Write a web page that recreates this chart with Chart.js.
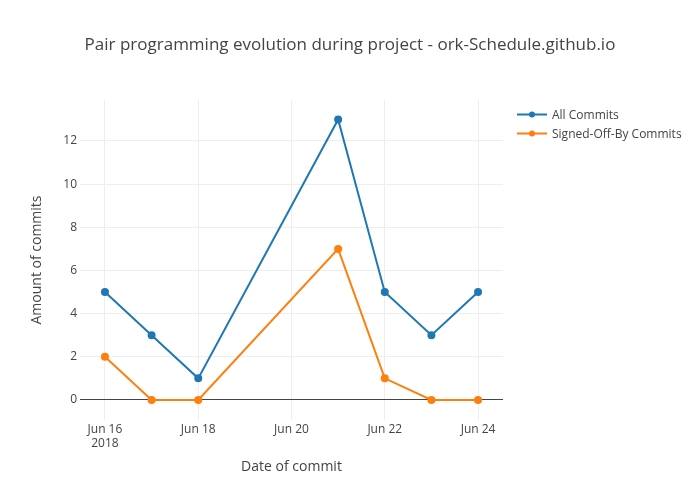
<!DOCTYPE html>
<html>
<head>
<meta charset="utf-8">
<script src="https://cdn.jsdelivr.net/npm/chart.js@4/dist/chart.umd.min.js"></script>
<style>
  html, body { margin: 0; padding: 0; background: #fff; }
  #wrap { width: 700px; height: 500px; }
</style>
</head>
<body>
<div id="wrap"><canvas id="chart" width="700" height="500"></canvas></div>
<script>
// 数据
const commitDates = ['2018-06-16', '2018-06-17', '2018-06-18', '2018-06-21', '2018-06-22', '2018-06-23', '2018-06-24'];
const allCommits = [5, 3, 1, 13, 5, 3, 5];
const signedOffCommits = [2, 0, 0, 7, 1, 0, 0];
const xTickDates = ['2018-06-16', '2018-06-18', '2018-06-20', '2018-06-22', '2018-06-24'];
const yTickValues = [0, 2, 4, 6, 8, 10, 12];

const DAY = 86400000;
const toDay = (s) => Date.parse(s + 'T00:00:00Z') / DAY;
const dayLabel = (d) => new Date(d * DAY).toLocaleDateString('en-US', { month: 'short', day: 'numeric', timeZone: 'UTC' });

const firstDay = toDay(xTickDates[0]);
const FONT = '"Open Sans", "Noto Sans", sans-serif';
const chartTitle = 'Pair programming evolution during project - ork-Schedule.github.io';

// 标题和图例 (手动绘制)
const decorations = {
    id: 'decorations',
    afterDraw(chart) {
        const ctx = chart.ctx;
        ctx.save();
        ctx.fillStyle = '#444';
        ctx.font = '17px ' + FONT;
        ctx.textAlign = 'center';
        ctx.textBaseline = 'middle';
        ctx.fillText(chartTitle, 350, 45);

        ctx.textAlign = 'left';
        chart.data.datasets.forEach((ds, i) => {
            const y = 114.5 + i * 19;
            ctx.strokeStyle = ds.borderColor;
            ctx.lineWidth = 2;
            ctx.beginPath();
            ctx.moveTo(517, y);
            ctx.lineTo(547, y);
            ctx.stroke();
            ctx.fillStyle = ds.borderColor;
            ctx.beginPath();
            ctx.arc(532, y, 3, 0, Math.PI * 2);
            ctx.fill();
            ctx.fillStyle = '#444';
            ctx.font = '12px ' + FONT;
            ctx.fillText(ds.label, 552, y + 1);
        });
        ctx.restore();
    }
};

const makeSeries = (label, values, color) => ({
    label: label,
    data: commitDates.map((d, i) => ({ x: toDay(d), y: values[i] })),
    borderColor: color,
    backgroundColor: color,
    borderWidth: 2,
    pointRadius: 3,
    pointHoverRadius: 4,
    tension: 0
});

new Chart(document.getElementById('chart').getContext('2d'), {
    type: 'line',
    data: {
        datasets: [
            makeSeries('All Commits', allCommits, '#1f77b4'),
            makeSeries('Signed-Off-By Commits', signedOffCommits, '#ff7f0e')
        ]
    },
    options: {
        responsive: false,
        animation: false,
        layout: { padding: { left: 20, right: 197, top: 100, bottom: 0 } },
        plugins: {
            legend: { display: false },
            tooltip: { enabled: false },
            title: { display: false }
        },
        scales: {
            x: {
                type: 'linear',
                min: firstDay - 0.535,
                max: firstDay + 8.535,
                border: { display: false },
                grid: { color: '#eee', drawTicks: false },
                afterBuildTicks: (scale) => {
                    scale.ticks = xTickDates.map(d => ({ value: toDay(d) }));
                },
                afterFit: (scale) => { scale.height = 80; },
                ticks: {
                    color: '#444',
                    font: { family: FONT, size: 12 },
                    padding: 2,
                    maxRotation: 0,
                    autoSkip: false,
                    callback: (v) => v === firstDay ? [dayLabel(v), '2018'] : dayLabel(v)
                },
                title: {
                    display: true,
                    text: 'Date of commit',
                    color: '#444',
                    font: { family: FONT, size: 14 },
                    padding: { top: 0, bottom: 24.6 }
                }
            },
            y: {
                min: -0.93,
                max: 13.9,
                border: { display: false },
                grid: {
                    drawTicks: false,
                    color: (c) => c.tick && c.tick.value === 0 ? '#444' : '#eee',
                    lineWidth: 1
                },
                afterBuildTicks: (scale) => {
                    scale.ticks = yTickValues.map(v => ({ value: v }));
                },
                afterFit: (scale) => { scale.width = 60; },
                ticks: {
                    color: '#444',
                    font: { family: FONT, size: 12 },
                    padding: 3
                },
                title: {
                    display: true,
                    text: 'Amount of commits',
                    color: '#444',
                    font: { family: FONT, size: 14 },
                    padding: { top: 9, bottom: 0 }
                }
            }
        }
    },
    plugins: [decorations]
});
</script>
</body>
</html>
